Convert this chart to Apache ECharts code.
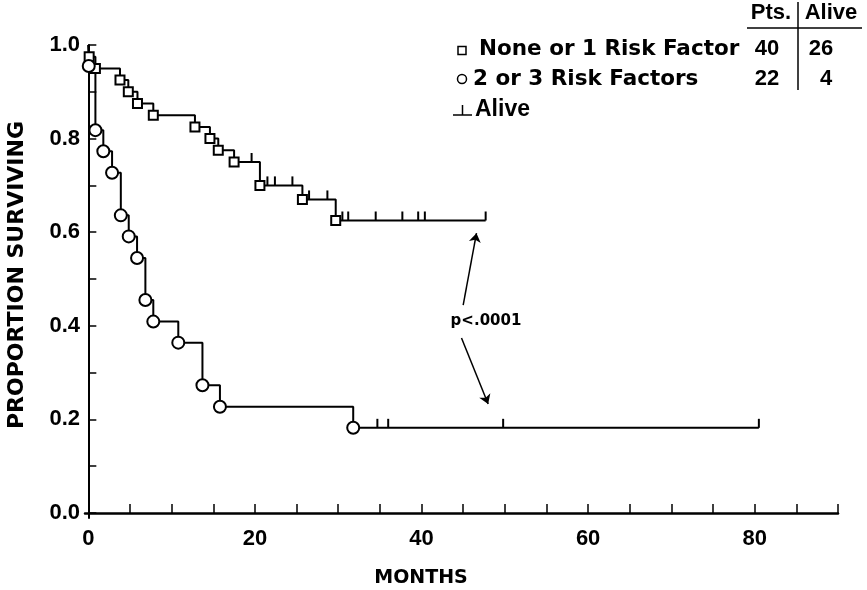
<!DOCTYPE html>
<html><head><meta charset="utf-8">
<script src="https://cdn.jsdelivr.net/npm/echarts@6/dist/echarts.min.js"></script>
<style>html,body{margin:0;padding:0;background:#fff}#c{width:867px;height:590px}</style>
</head><body><div id="c"></div>
<script>
// ---- data ----
const groupNames = ['None or 1 Risk Factor', '2 or 3 Risk Factors'];
const groupPts = ['40', '22'];
const groupAlive = ['26', '4'];

// Kaplan-Meier steps: low risk (None or 1 risk factor)
const lowTimes = [0, 0.1, 0.85, 3.8, 4.8, 5.9, 7.8, 12.8, 14.6, 15.6, 17.5, 20.6, 25.7, 29.7];
const lowSurv  = [1.0, 0.975, 0.95, 0.925, 0.9, 0.875, 0.85, 0.825, 0.8, 0.775, 0.75, 0.70, 0.67, 0.625];
const lowCensor = [19.6, 21.5, 22.4, 24.5, 26.5, 28.7, 30.5, 31.2, 34.5, 37.7, 39.6, 40.4, 47.7];
const lowEnd = 47.7;

// high risk (2 or 3 risk factors)
const highTimes = [0, 0.05, 0.85, 1.8, 2.85, 3.9, 4.85, 5.85, 6.85, 7.8, 10.8, 13.7, 15.8, 31.8];
const highSurv  = [1.0, 0.955, 0.818, 0.773, 0.727, 0.636, 0.591, 0.545, 0.455, 0.409, 0.364, 0.273, 0.227, 0.182];
const highCensor = [34.7, 36.0, 49.8, 80.5];
const highEnd = 80.5;

const xTicks = [0,5,10,15,20,25,30,35,40,45,50,55,60,65,70,75,80,85,90];
const xLabels = [0,20,40,60,80];
const yTicks = [0,0.1,0.2,0.3,0.4,0.5,0.6,0.7,0.8,0.9,1.0];
const yLabels = [0,0.2,0.4,0.6,0.8,1.0];

const pText = 'p<.0001';
const xName = 'MONTHS';
const yName = 'PROPORTION SURVIVING';

// ---- helpers ----
function kmLine(times, surv, end) {
  const d = times.map((t, i) => [t, surv[i]]);
  d.push([end, surv[surv.length - 1]]);
  return d;
}
function deaths(times, surv) {
  return times.slice(1).map((t, i) => [t, surv[i + 1]]);
}
function survAt(times, surv, t) {
  let v = surv[0];
  for (let i = 0; i < times.length; i++) if (times[i] <= t) v = surv[i];
  return v;
}
function censors(times, surv, cs) {
  return cs.map(t => [t, survAt(times, surv, t)]);
}

const BOLD = 'bold 22px "Liberation Sans"';
const WORD = 'bold 21.5px "DejaVu Sans"';

const chart = echarts.init(document.getElementById('c'), null, {renderer: 'canvas'});
chart.setOption({
  animation: false,
  backgroundColor: '#fff',
  grid: {left: 85, right: 29, top: 45, bottom: 72},
  xAxis: {
    type: 'value', min: -0.4, max: 90,
    axisLine: {lineStyle: {color: '#000', width: 2.5}},
    axisTick: {inside: true, length: 9, customValues: xTicks, lineStyle: {color: '#000', width: 1.5}},
    axisLabel: {customValues: xLabels, color: '#000', fontFamily: 'Liberation Sans', fontWeight: 'bold', fontSize: 22, margin: 10},
    splitLine: {show: false}
  },
  yAxis: {
    type: 'value', min: -0.0107, max: 1.0,
    axisLine: {show: true, lineStyle: {color: '#000', width: 2}},
    axisTick: {show: true, inside: true, length: 8, customValues: yTicks, lineStyle: {color: '#000', width: 1.5}},
    axisLabel: {customValues: yLabels, formatter: v => v.toFixed(1), color: '#000', fontFamily: 'Liberation Sans', fontWeight: 'bold', fontSize: 22, margin: 5},
    splitLine: {show: false}
  },
  series: [
    {type: 'line', step: 'end', data: kmLine(lowTimes, lowSurv, lowEnd), symbol: 'none',
     lineStyle: {color: '#000', width: 2}, z: 2},
    {type: 'line', step: 'end', data: kmLine(highTimes, highSurv, highEnd), symbol: 'none',
     lineStyle: {color: '#000', width: 2}, z: 2,
     markLine: {silent: true, symbol: ['none', 'arrow'], symbolSize: 9,
       lineStyle: {color: '#000', width: 1.5, type: 'solid'}, label: {show: false},
       data: [
         [{coord: [45.0, 0.444]}, {coord: [46.6, 0.598]}],
         [{coord: [44.8, 0.374]}, {coord: [48.0, 0.233]}]
       ]}},
    {type: 'scatter', data: deaths(lowTimes, lowSurv), symbol: 'rect', symbolSize: 9,
     itemStyle: {color: '#fff', borderColor: '#000', borderWidth: 2, opacity: 1}, z: 4},
    {type: 'scatter', data: deaths(highTimes, highSurv), symbol: 'circle', symbolSize: 12,
     itemStyle: {color: '#fff', borderColor: '#000', borderWidth: 2, opacity: 1}, z: 4},
    {type: 'scatter', data: censors(lowTimes, lowSurv, lowCensor).concat(censors(highTimes, highSurv, highCensor)),
     symbol: 'rect', symbolSize: [2, 9], symbolOffset: [0, -4.5], itemStyle: {color: '#000', opacity: 1}, z: 3}
  ],
  graphic: [
    {type: 'text', x: 17, y: 275, rotation: Math.PI / 2,
     style: {text: yName, font: 'bold 22px "DejaVu Sans"', fill: '#000', textAlign: 'center', textVerticalAlign: 'middle'}},
    {type: 'text', x: 421, y: 578,
     style: {text: xName, font: 'bold 19px "DejaVu Sans"', fill: '#000', textAlign: 'center', textVerticalAlign: 'middle'}},
    {type: 'text', x: 486, y: 321,
     style: {text: pText, font: 'bold 15px "DejaVu Sans"', fill: '#000', textAlign: 'center', textVerticalAlign: 'middle'}},
    // legend table
    {type: 'text', x: 771, y: 13, style: {text: 'Pts.', font: BOLD, fill: '#000', textAlign: 'center', textVerticalAlign: 'middle'}},
    {type: 'text', x: 831, y: 13, style: {text: 'Alive', font: BOLD, fill: '#000', textAlign: 'center', textVerticalAlign: 'middle'}},
    {type: 'line', shape: {x1: 747, y1: 28, x2: 862, y2: 28}, style: {stroke: '#000', lineWidth: 1.5}},
    {type: 'line', shape: {x1: 798, y1: 2, x2: 798, y2: 90}, style: {stroke: '#000', lineWidth: 1.5}},
    {type: 'rect', shape: {x: 458, y: 46.5, width: 8, height: 8}, style: {fill: '#fff', stroke: '#000', lineWidth: 1.5}},
    {type: 'text', x: 479, y: 49, style: {text: groupNames[0], font: WORD, fill: '#000', textAlign: 'left', textVerticalAlign: 'middle'}},
    {type: 'text', x: 767, y: 49, style: {text: groupPts[0], font: BOLD, fill: '#000', textAlign: 'center', textVerticalAlign: 'middle'}},
    {type: 'text', x: 821, y: 49, style: {text: groupAlive[0], font: BOLD, fill: '#000', textAlign: 'center', textVerticalAlign: 'middle'}},
    {type: 'circle', shape: {cx: 462, cy: 79, r: 4.5}, style: {fill: '#fff', stroke: '#000', lineWidth: 1.5}},
    {type: 'text', x: 473, y: 79, style: {text: groupNames[1], font: WORD, fill: '#000', textAlign: 'left', textVerticalAlign: 'middle'}},
    {type: 'text', x: 767, y: 79, style: {text: groupPts[1], font: BOLD, fill: '#000', textAlign: 'center', textVerticalAlign: 'middle'}},
    {type: 'text', x: 826, y: 79, style: {text: groupAlive[1], font: BOLD, fill: '#000', textAlign: 'center', textVerticalAlign: 'middle'}},
    {type: 'line', shape: {x1: 453, y1: 115, x2: 472, y2: 115}, style: {stroke: '#000', lineWidth: 1.5}},
    {type: 'line', shape: {x1: 462.5, y1: 105, x2: 462.5, y2: 115}, style: {stroke: '#000', lineWidth: 1.5}},
    {type: 'text', x: 475, y: 110, style: {text: 'Alive', font: 'bold 23px "Liberation Sans"', fill: '#000', textAlign: 'left', textVerticalAlign: 'middle'}}
  ]
});
</script>
</body></html>
